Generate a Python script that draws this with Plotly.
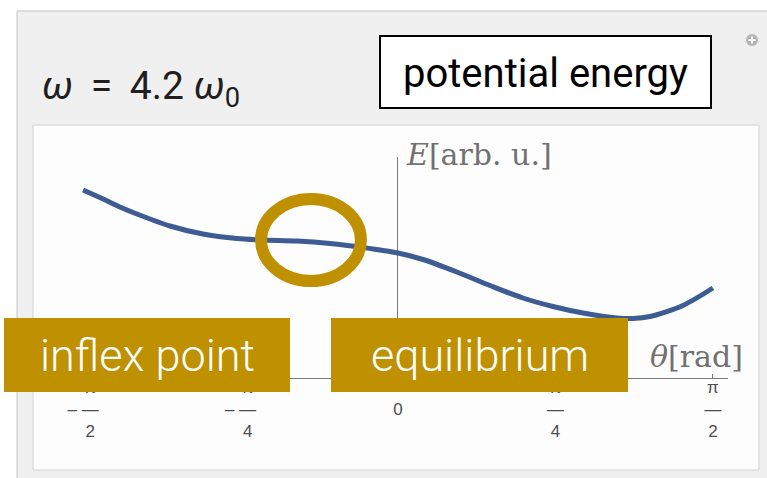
import math
import plotly.graph_objects as go

# Potential energy curve E(theta), arbitrary units
theta = [-1.571, -1.471, -1.387, -1.302, -1.137, -0.973, -0.803, -0.673, -0.504,
         -0.339, -0.175, 0.0, 0.125, 0.294, 0.459, 0.623, 0.773, 0.923, 1.092,
         1.172, 1.257, 1.421, 1.571]
energy = [1.88, 1.79, 1.71, 1.64, 1.52, 1.44, 1.395, 1.38, 1.37,
          1.345, 1.305, 1.25, 1.185, 1.06, 0.925, 0.80, 0.715, 0.65, 0.60,
          0.595, 0.615, 0.725, 0.90]

# Inflection point marked with a ring
inflex_theta = -0.434
inflex_energy = 1.38

tick_vals = [-math.pi / 2, -math.pi / 4, 0, math.pi / 4, math.pi / 2]
tick_numer = ["π", "π", "", "π", "π"]
tick_denom = ["2", "4", "", "4", "2"]
tick_sign = ["–", "–", "", "", ""]

NB = "\u00a0"


def frac_label(sign, num, den):
    """Stacked fraction label: numerator, bar, denominator on three lines."""
    if not num:
        return NB + "<br>0"
    pad = NB * 3 if sign else ""
    bar = (sign + " —") if sign else "—"
    return "<br>".join([pad + num, bar, pad + den])


tick_text = [frac_label(s, n, d) for s, n, d in zip(tick_sign, tick_numer, tick_denom)]

title_text = "<i>ω</i>\u2009 = \u20094.2 <i>ω</i><sub>0</sub>"
box_title = "potential energy"
label_left = "inflex point"
label_right = "equilibrium"

GOLD = "#BF9000"
AXIS = "#7a7a7a"

W, H = 767, 478
L, R, T, B = 75, 39, 157, 100
PW = W - L - R
PH = H - T - B


def fx(x):
    return (x - L) / PW


def fy(y):
    return (H - B - y) / PH


fig = go.Figure()
fig.add_trace(go.Scatter(
    x=theta, y=energy, mode="lines",
    line=dict(color="#3d5c94", width=5, shape="spline", smoothing=0.8),
    hoverinfo="skip", showlegend=False,
))

shapes = [
    # outer panel
    dict(type="rect", xref="paper", yref="paper", layer="below",
         x0=fx(17), x1=fx(820), y0=fy(11), y1=fy(520),
         fillcolor="#f0f0f0", line=dict(color="#c4c4c4", width=1)),
    # plot frame
    dict(type="rect", xref="paper", yref="paper", layer="below",
         x0=fx(33), x1=fx(759), y0=fy(125), y1=fy(470),
         fillcolor="#fdfdfd", line=dict(color="#d2d2d2", width=1)),
    # expand icon
    dict(type="circle", xref="paper", yref="paper", layer="above",
         x0=fx(746), x1=fx(758), y0=fy(34), y1=fy(46),
         fillcolor="#b4b4b4", line=dict(width=0)),
    dict(type="line", xref="paper", yref="paper", layer="above",
         x0=fx(748.5), x1=fx(755.5), y0=fy(40), y1=fy(40),
         line=dict(color="white", width=2)),
    dict(type="line", xref="paper", yref="paper", layer="above",
         x0=fx(752), x1=fx(752), y0=fy(36.5), y1=fy(43.5),
         line=dict(color="white", width=2)),
    # title box
    dict(type="rect", xref="paper", yref="paper", layer="above",
         x0=fx(380), x1=fx(711), y0=fy(36), y1=fy(108),
         fillcolor="white", line=dict(color="black", width=2)),
    # ring around inflection point
    dict(type="circle", xref="x", yref="y", layer="above",
         x0=inflex_theta - 0.249, x1=inflex_theta + 0.249,
         y0=inflex_energy - 0.41, y1=inflex_energy + 0.41,
         line=dict(color=GOLD, width=12)),
    # label boxes
    dict(type="rect", xref="paper", yref="paper", layer="above",
         x0=fx(4), x1=fx(290), y0=fy(318), y1=fy(392),
         fillcolor=GOLD, line=dict(width=0)),
    dict(type="rect", xref="paper", yref="paper", layer="above",
         x0=fx(331), x1=fx(628), y0=fy(318), y1=fy(392),
         fillcolor=GOLD, line=dict(width=0)),
]

annotations = [
    dict(text=title_text, xref="paper", yref="paper", x=fx(40), y=fy(88),
         xanchor="left", yanchor="middle", showarrow=False,
         font=dict(family="Roboto", size=39, color="#1f1f1f")),
    dict(text=box_title, xref="paper", yref="paper", x=fx(545.5), y=fy(73),
         xanchor="center", yanchor="middle", showarrow=False,
         font=dict(family="Roboto", size=40, color="black")),
    dict(text="<i>E</i>[arb. u.]", xref="paper", yref="paper", x=fx(404), y=fy(154),
         xanchor="left", yanchor="middle", showarrow=False,
         font=dict(family="DejaVu Serif", size=30, color="#717171")),
    dict(text="<i>θ</i>[rad]", xref="paper", yref="paper", x=fx(648), y=fy(356),
         xanchor="left", yanchor="middle", showarrow=False,
         font=dict(family="DejaVu Serif", size=30, color="#717171")),
    dict(text=label_left, xref="paper", yref="paper", x=fx(147), y=fy(355),
         xanchor="center", yanchor="middle", showarrow=False,
         font=dict(family="Roboto", size=45, color="white", weight=300)),
    dict(text=label_right, xref="paper", yref="paper", x=fx(479.5), y=fy(355),
         xanchor="center", yanchor="middle", showarrow=False,
         font=dict(family="Roboto", size=45, color="white", weight=300)),
]

fig.update_layout(
    width=W, height=H,
    margin=dict(l=L, r=R, t=T, b=B, pad=0),
    paper_bgcolor="white",
    plot_bgcolor="rgba(0,0,0,0)",
    shapes=shapes,
    annotations=annotations,
    xaxis=dict(
        range=[-1.611, 1.646], showgrid=False,
        showline=True, linecolor=AXIS, linewidth=1.3,
        zeroline=True, zerolinecolor=AXIS, zerolinewidth=1.3,
        ticks="inside", ticklen=4, tickcolor=AXIS, tickwidth=1,
        tickvals=tick_vals, ticktext=tick_text,
        ticklabelstandoff=-7,
        tickfont=dict(family="Liberation Sans", size=17, color="#4d4d4d"),
        fixedrange=True,
    ),
    yaxis=dict(
        range=[0, 2.21], showgrid=False, showline=False, zeroline=False,
        showticklabels=False, ticks="", fixedrange=True,
    ),
)

fig.write_html("out.html")
